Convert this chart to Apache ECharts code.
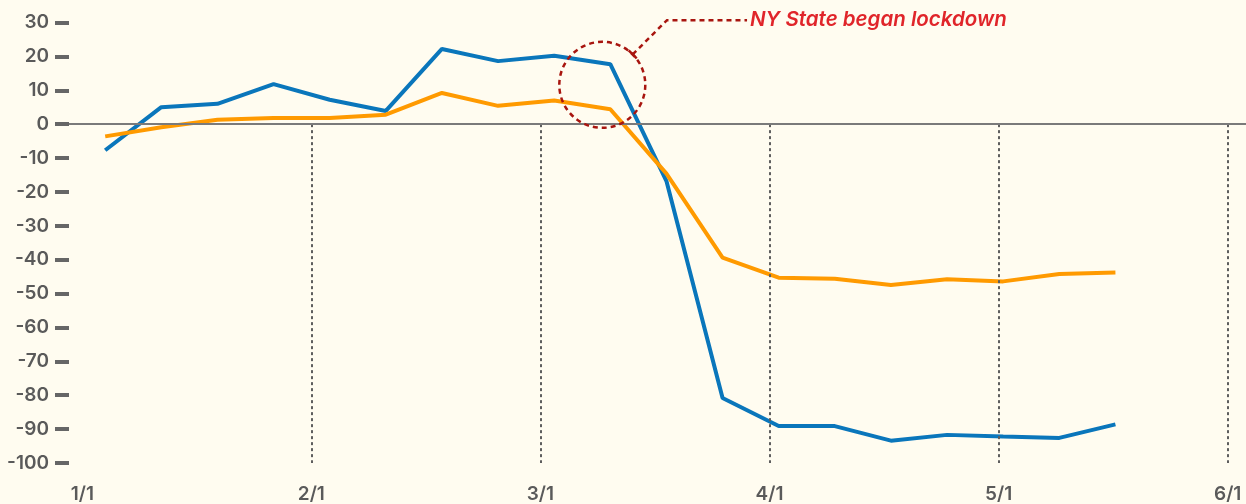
<!DOCTYPE html>
<html>
<head>
    <meta charset="utf-8">
    <title>NY lockdown mobility</title>
    <script src="https://cdn.jsdelivr.net/npm/echarts@6/dist/echarts.min.js"></script>
    <style>
        html, body { margin: 0; padding: 0; background: #fffcf0; }
        #chart { width: 1246px; height: 504px; }
    </style>
</head>
<body>
<div id="chart"></div>

<script type="text/javascript">
    // x is measured in months since 1/1, weekly points
    var monthLabels = ["1/1", "2/1", "3/1", "4/1", "5/1", "6/1"];
    var monthTicks = [0, 1, 2, 3, 4, 5];
    var weekPos = [0.10, 0.345, 0.59, 0.835, 1.08, 1.325, 1.57, 1.815, 2.06, 2.305,
                   2.55, 2.795, 3.04, 3.285, 3.53, 3.775, 4.02, 4.265, 4.51];
    var blueValues = [-7.7, 5.0, 6.0, 11.8, 7.2, 3.9, 22.2, 18.6, 20.2, 17.7,
                      -16.8, -80.8, -89.1, -89.1, -93.4, -91.7, -92.2, -92.6, -88.6];
    var orangeValues = [-3.6, -0.9, 1.3, 1.8, 1.8, 2.8, 9.2, 5.4, 7.0, 4.4,
                        -14.6, -39.4, -45.3, -45.6, -47.5, -45.8, -46.4, -44.2, -43.8];
    var yTicks = [-100, -90, -80, -70, -60, -50, -40, -30, -20, -10, 0, 10, 20, 30];

    var noteText = "NY State began lockdown";
    var noteAt = [2.27, 11.6];    // centre of the dashed circle
    var noteLabelAt = [2.915, 30.7];

    var axisFont = { fontFamily: "Inter", fontSize: 19, fontWeight: 600, color: "#5a5a5a" };

    function pairs(xs, ys) {
        return xs.map(function (x, i) { return [x, ys[i]]; });
    }

    var monthLines = monthTicks.slice(1).map(function (m) {
        return [{ coord: [m, 0] }, { coord: [m, -100] }];
    });

    var dom = document.getElementById("chart");
    var myChart = echarts.init(dom, null, { renderer: "canvas" });

    var option = {
        backgroundColor: "#fffcf0",
        animation: false,
        grid: { left: 69, right: 0, top: 22.5, bottom: 40 },
        xAxis: {
            type: "value",
            min: -0.058,
            max: 5.08,
            axisLine: { show: false, onZero: false },
            axisTick: { show: false },
            splitLine: { show: false },
            axisLabel: Object.assign({
                customValues: monthTicks,
                margin: 22,
                formatter: function (v) { return monthLabels[Math.round(v)]; }
            }, axisFont)
        },
        yAxis: {
            type: "value",
            min: yTicks[0],
            max: yTicks[yTicks.length - 1],
            interval: 10,
            axisLine: { show: false, onZero: false },
            axisTick: { show: true, inside: false, length: 14, lineStyle: { color: "#666", width: 4 } },
            splitLine: { show: false },
            axisLabel: Object.assign({ margin: 20 }, axisFont)
        },
        series: [
            {
                name: "blue",
                type: "line",
                data: pairs(weekPos, blueValues),
                showSymbol: false,
                lineStyle: { color: "#0a76bb", width: 4 },
                z: 3,
                markLine: {
                    silent: true,
                    symbol: "none",
                    label: { show: false },
                    lineStyle: { color: "#5e5e5e", width: 2, type: [3, 3] },
                    data: monthLines
                }
            },
            {
                name: "orange",
                type: "line",
                data: pairs(weekPos, orangeValues),
                showSymbol: false,
                lineStyle: { color: "#ff9a00", width: 4 },
                z: 4,
                markLine: {
                    silent: true,
                    symbol: "none",
                    label: { show: false },
                    lineStyle: { color: "#7a7a7a", width: 2, type: "solid" },
                    data: [{ yAxis: 0 }]
                }
            }
        ]
    };
    myChart.setOption(option);

    // annotation: dashed circle, leader line and label
    var c = myChart.convertToPixel({ gridIndex: 0 }, noteAt);
    var lab = myChart.convertToPixel({ gridIndex: 0 }, noteLabelAt);
    var r = 43;
    var tx = c[0] + r * Math.SQRT1_2, ty = c[1] - r * Math.SQRT1_2;
    var ex = tx + (ty - lab[1]), ey = lab[1];
    var red = "#a8150f";
    myChart.setOption({
        graphic: [
            {
                type: "circle",
                shape: { cx: c[0], cy: c[1], r: r },
                style: { fill: null, stroke: red, lineWidth: 2.5, lineDash: [5, 4] },
                z: 10
            },
            {
                type: "polyline",
                shape: { points: [[tx, ty], [ex, ey], [lab[0] - 3, ey]] },
                style: { fill: null, stroke: red, lineWidth: 2.5, lineDash: [5, 4] },
                z: 10
            },
            {
                type: "line",
                shape: { x1: tx - 4, y1: ty - 4, x2: tx + 4, y2: ty + 4 },
                style: { stroke: red, lineWidth: 2.5 },
                z: 10
            },
            {
                type: "text",
                x: lab[0],
                y: lab[1],
                style: {
                    text: noteText,
                    fill: "#e0252a",
                    fontFamily: "Inter",
                    fontSize: 20.5,
                    fontWeight: 600,
                    fontStyle: "italic",
                    verticalAlign: "middle",
                    align: "left"
                },
                z: 10
            }
        ]
    });
</script>
</body>
</html>
